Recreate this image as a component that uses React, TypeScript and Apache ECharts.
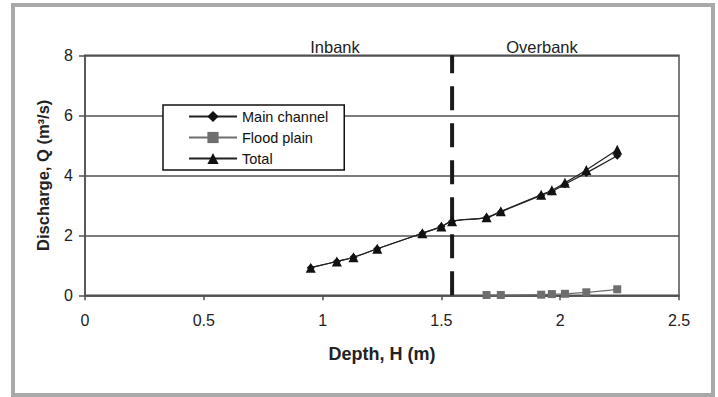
import React, { useEffect, useRef } from "react";
import * as echarts from "echarts";

// Depth readings (m) for each series
const depthAll = [0.95, 1.06, 1.13, 1.23, 1.42, 1.5, 1.545, 1.69, 1.75, 1.92, 1.965, 2.02, 2.11, 2.24];
const depthOverbank = [1.69, 1.75, 1.92, 1.965, 2.02, 2.11, 2.24];

// Discharge (m^3/s)
const mainChannel = [0.92, 1.13, 1.27, 1.55, 2.07, 2.29, 2.47, 2.59, 2.78, 3.33, 3.46, 3.7, 4.08, 4.65];
const floodPlain = [0.01, 0.01, 0.02, 0.04, 0.05, 0.1, 0.2];
const total = [0.92, 1.13, 1.27, 1.55, 2.07, 2.29, 2.47, 2.6, 2.8, 3.35, 3.5, 3.75, 4.18, 4.85];

// Bankfull depth separating inbank and overbank flow
const bankfullDepth = 1.545;
const yRange = [0, 8];

const FONT = "'Liberation Sans', Arial, sans-serif";

const pairs = (xs: number[], ys: number[]) => xs.map((x, i) => [x, ys[i]]);

export default function App() {
  const ref = useRef<HTMLDivElement>(null);

  useEffect(() => {
    if (!ref.current) return;
    const chart = echarts.init(ref.current, undefined, { renderer: "svg" });
    const axisLineStyle = { color: "#505050", width: 1.5 };
    chart.setOption({
      animation: false,
      backgroundColor: "#fff",
      textStyle: { fontFamily: FONT },
      grid: {
        left: 85,
        right: 39,
        top: 55.3,
        bottom: 101.7,
        show: true,
        borderColor: "#505050",
        borderWidth: 1.5,
      },
      legend: {
        left: 163,
        top: 105,
        orient: "vertical",
        data: ["Main channel", "Flood plain", "Total"],
        backgroundColor: "#fff",
        borderColor: "#111",
        borderWidth: 1.5,
        borderRadius: 0,
        padding: [4, 16, 4, 25],
        itemWidth: 48,
        itemHeight: 14,
        itemGap: 6,
        textStyle: { fontFamily: FONT, fontSize: 14.5, color: "#111" },
      },
      xAxis: {
        type: "value",
        min: 0,
        max: 2.5,
        interval: 0.5,
        name: "Depth, H (m)",
        nameLocation: "middle",
        nameGap: 50,
        nameTextStyle: { fontFamily: FONT, fontSize: 18, fontWeight: "bold", color: "#222" },
        axisLine: { lineStyle: axisLineStyle },
        axisTick: { show: true, length: 5, lineStyle: axisLineStyle },
        axisLabel: { fontFamily: FONT, fontSize: 16, color: "#222", margin: 17 },
        splitLine: { show: false },
      },
      yAxis: {
        type: "value",
        min: yRange[0],
        max: yRange[1],
        interval: 2,
        name: "Discharge, Q (m³/s)",
        nameLocation: "middle",
        nameGap: 34,
        nameTextStyle: { fontFamily: FONT, fontSize: 16.5, fontWeight: "bold", color: "#222" },
        axisLine: { show: true, lineStyle: axisLineStyle },
        axisTick: { show: true, length: 6, lineStyle: axisLineStyle },
        axisLabel: { fontFamily: FONT, fontSize: 16, color: "#222", margin: 12 },
        splitLine: { show: true, lineStyle: axisLineStyle },
      },
      series: [
        {
          name: "bankfull",
          type: "line",
          data: [
            [bankfullDepth, yRange[0]],
            [bankfullDepth, yRange[1]],
          ],
          symbol: "none",
          silent: true,
          lineStyle: { color: "#1a1a1a", width: 4, type: [24, 13] },
          z: 1,
        },
        {
          name: "Main channel",
          type: "line",
          data: pairs(depthAll, mainChannel),
          smooth: 0.4,
          symbol: "diamond",
          symbolSize: 8,
          itemStyle: { color: "#111" },
          lineStyle: { color: "#222", width: 1.2 },
          z: 2,
        },
        {
          name: "Flood plain",
          type: "line",
          data: pairs(depthOverbank, floodPlain),
          smooth: 0.4,
          symbol: "rect",
          symbolSize: 8,
          itemStyle: { color: "#6e6e6e" },
          lineStyle: { color: "#6e6e6e", width: 1.2 },
          z: 3,
        },
        {
          name: "Total",
          type: "line",
          data: pairs(depthAll, total),
          smooth: 0.4,
          symbol: "triangle",
          symbolSize: 10,
          itemStyle: { color: "#111" },
          lineStyle: { color: "#222", width: 1.2 },
          z: 4,
        },
      ],
      graphic: [
        {
          type: "rect",
          shape: { x: 13, y: 5, width: 700, height: 390 },
          style: { fill: "none", stroke: "#a9a9a9", lineWidth: 4 },
          silent: true,
        },
        {
          type: "text",
          x: 335,
          y: 47,
          style: {
            text: "Inbank",
            fontFamily: FONT,
            fontSize: 16.5,
            fill: "#222",
            textAlign: "center",
            textVerticalAlign: "middle",
          },
        },
        {
          type: "text",
          x: 542,
          y: 47,
          style: {
            text: "Overbank",
            fontFamily: FONT,
            fontSize: 16.5,
            fill: "#222",
            textAlign: "center",
            textVerticalAlign: "middle",
          },
        },
      ],
    });
    return () => chart.dispose();
  }, []);

  return (
    <div
      ref={ref}
      style={{ position: "fixed", left: 0, top: 0, width: 718, height: 397, background: "#fff" }}
    />
  );
}
